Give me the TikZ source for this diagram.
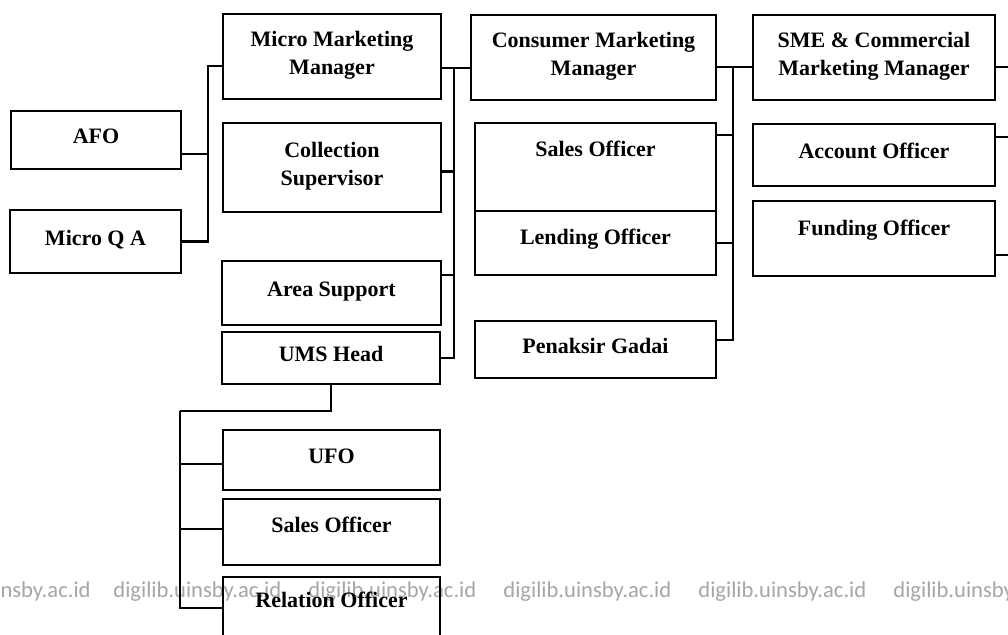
\documentclass[tikz,border=0pt]{standalone}
\usepackage{fontspec}
\setmainfont{Liberation Serif}
\newfontfamily\stampfont{Carlito}
\usepackage{tikz}
\usetikzlibrary{positioning}

\begin{document}
\begin{tikzpicture}[x=0.5pt,y=-0.5pt,
  box/.style={draw,line width=1.3pt,align=center,inner sep=0pt,text depth=4pt,
    font=\fontsize{11}{14}\selectfont\bfseries},
  wire/.style={line width=1.3pt},
  stamp/.style={text=black!35,inner sep=0pt,font=\fontsize{11.3}{13}\selectfont\stampfont}]

	\fill [white] (0,0) rectangle (1008,634);
	\useasboundingbox (0,0) rectangle (1008,634);

	% Watermark row
	\node [stamp,anchor=base east] at (91,597) (wm0) {insby.ac.id};
	\foreach \x in {113,308,503,698,893}
	  \node [stamp,anchor=base west] at (\x,597) (wm\x) {digilib.uinsby.ac.id};

	% Left column
	\node [box,minimum width=85pt,minimum height=29pt] at (96,140) (afo) {AFO};
	\node [box,minimum width=85.5pt,minimum height=31.5pt] at (95.5,241.5) (mqa) {Micro Q A};

	% Micro column
	\node [box,minimum width=109pt,minimum height=42.5pt] at (332,56.5) (mmm) {Micro Marketing\\Manager};
	\node [box,minimum width=109pt,minimum height=44.5pt] at (332,167.5) (cs) {Collection\\Supervisor};
	\node [box,minimum width=109.5pt,minimum height=32pt] at (331.5,293) (as) {Area Support};
	\node [box,minimum width=109pt,minimum height=26pt] at (331,358) (ums) {UMS Head};

	% Units under the UMS head
	\node [box,minimum width=108.5pt,minimum height=30pt] at (331.5,460) (ufo) {UFO};
	\node [box,minimum width=108.5pt,minimum height=33pt,text depth=7pt] at (331.5,532) (so2) {Sales Officer};
	\node [box,minimum width=108.5pt,minimum height=39pt,text depth=16pt] at (331.5,616) (ro) {Relation Officer};

	% Consumer column
	\node [box,minimum width=122.5pt,minimum height=42.5pt] at (593.5,57.5) (cmm) {Consumer Marketing\\Manager};
	\node [box,minimum width=120.5pt,minimum height=44pt,text depth=18pt] at (595.5,167) (so1) {Sales Officer};
	\node [box,minimum width=120.5pt,minimum height=32pt,text depth=6pt] at (595.5,243) (lo) {Lending Officer};
	\node [box,minimum width=120.5pt,minimum height=28.5pt] at (595.5,349.5) (pg) {Penaksir Gadai};

	% SME column
	\node [box,minimum width=121pt,minimum height=42.5pt] at (874,57.5) (sme) {SME \& Commercial\\Marketing Manager};
	\node [box,minimum width=121pt,minimum height=31pt] at (874,155) (ao) {Account Officer};
	\node [box,minimum width=121pt,minimum height=37.5pt,text depth=10.5pt] at (874,238.5) (fo) {Funding Officer};

	% Bus lines
	\coordinate (lbus) at (208,66);
	\coordinate (mbus) at (454,68);
	\coordinate (rbus) at (733,67);
	\coordinate (sbus) at (1020,67);
	\coordinate (bbus) at (180,411);

	\draw [wire] ([yshift=-7pt]afo.east) -| (lbus) -- (lbus -| mmm.west);
	\draw [wire] (mqa.east) -| (lbus);

	\draw [wire] (mbus -| mmm.east) -- (mbus -| cmm.west);
	\draw [wire] ([yshift=-2pt]cs.east) -| (mbus);
	\draw [wire] ([yshift=9pt]as.east) -| (mbus);
	\draw [wire] (ums.east) -| (mbus);

	\draw [wire] (rbus -| cmm.east) -- (rbus -| sme.west);
	\draw [wire] ([yshift=16pt]so1.east) -| (rbus);
	\draw [wire] (lo.east) -| (rbus);
	\draw [wire] ([yshift=4.75pt]pg.east) -| (rbus);

	\draw [wire] (sbus -| sme.east) -- (sbus);
	\draw [wire] ([yshift=9pt]ao.east) -| (sbus);
	\draw [wire] ([yshift=-8.25pt]fo.east) -| (sbus);

	\draw [wire] (ums.south) |- (bbus);
	\draw [wire] ([yshift=-2pt]ufo.west) -| (bbus);
	\draw [wire] ([yshift=1.5pt]so2.west) -| (bbus);
	\draw [wire] ([yshift=4pt]ro.west) -| (bbus);

\end{tikzpicture}
\end{document}
